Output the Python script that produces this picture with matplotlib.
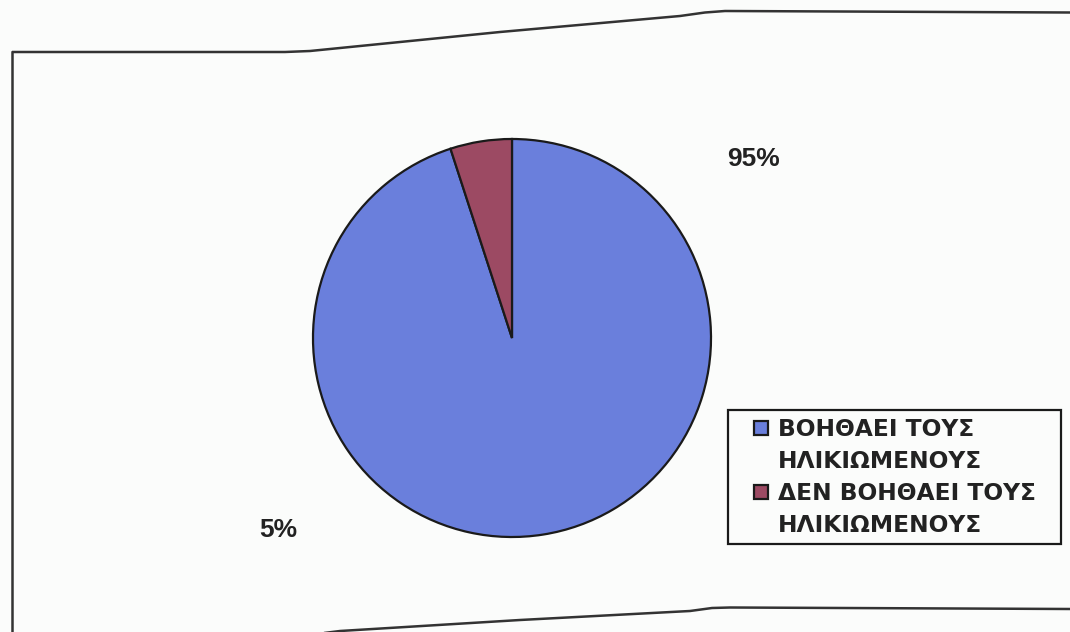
import matplotlib.pyplot as plt
from matplotlib.patches import Rectangle

# ==========================
# Data
# ==========================

categories = ["ΒΟΗΘΑΕΙ ΤΟΥΣ\nΗΛΙΚΙΩΜΕΝΟΥΣ", "ΔΕΝ ΒΟΗΘΑΕΙ ΤΟΥΣ\nΗΛΙΚΙΩΜΕΝΟΥΣ"]
values = [95, 5]
colors = ["#6a7fdc", "#9c4a63"]

plt.rcParams["font.family"] = ["Liberation Sans", "DejaVu Sans"]

W, H = 1070, 632
PAPER = "#fbfcfb"
INK = "#222222"

fig = plt.figure(figsize=(W / 100, H / 100), dpi=100)
fig.patch.set_facecolor(PAPER)

# ==========================
# Page frame (pixel coordinates)
# ==========================

bg = fig.add_axes([0, 0, 1, 1])
bg.set_xlim(0, W)
bg.set_ylim(H, 0)
bg.axis("off")

top_x = [12, 285, 310, 340, 500, 680, 705, 725, 1070]
top_y = [52, 52, 51, 48, 32, 16, 12.5, 11, 12.5]
bot_x = [300, 340, 520, 690, 712, 730, 1070]
bot_y = [636, 631, 620, 611, 608, 607.5, 609]

bg.plot(top_x, top_y, color="#333333", lw=1.8, solid_capstyle="butt")
bg.plot(bot_x, bot_y, color="#333333", lw=1.8, solid_capstyle="butt")
bg.plot([12, 12], [52, H], color="#333333", lw=1.8)

# ==========================
# Pie
# ==========================

cx, cy, r = 512, 338, 201
ax = fig.add_axes([(cx - r) / W, (H - cy - r) / H, 2 * r / W, 2 * r / H])
ax.pie(
    values,
    colors=colors,
    startangle=90,
    counterclock=False,
    wedgeprops={"edgecolor": "#1a1a1a", "linewidth": 1.6},
)
ax.set_xlim(-1.01, 1.01)
ax.set_ylim(-1.01, 1.01)
ax.set_aspect("equal")

# percentage labels
label_pos = [(754, 159), (278, 530)]
for v, (lx, ly) in zip(values, label_pos):
    bg.text(lx, ly, f"{v}%", fontsize=19, fontweight="bold",
            color=INK, ha="center", va="center")

# ==========================
# Legend box
# ==========================

bg.add_patch(Rectangle((728, 410), 333, 134, facecolor=PAPER,
                       edgecolor="#1a1a1a", lw=1.6))

line_step = 32
first_base = 436
for i, (label, c) in enumerate(zip(categories, colors)):
    base = first_base + i * 2 * line_step
    bg.add_patch(Rectangle((753.5, base - 15.5), 14, 14, facecolor=c,
                           edgecolor="#1a1a1a", lw=1.6))
    for j, line in enumerate(label.split("\n")):
        bg.text(778, base + j * line_step, line, fontsize=16.8,
                fontweight="bold", family="DejaVu Sans", color=INK,
                ha="left", va="baseline")

fig.savefig("out.png", dpi=100, facecolor=fig.get_facecolor())
